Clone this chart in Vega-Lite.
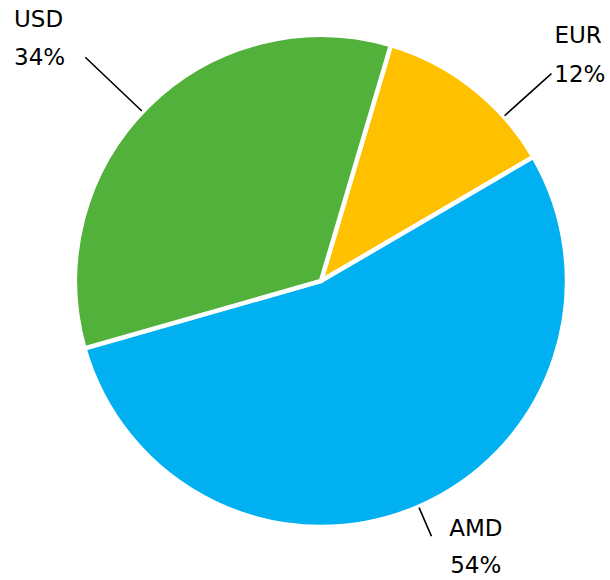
{
  "$schema": "https://vega.github.io/schema/vega-lite/v6.json",
  "width": 578,
  "height": 562,
  "autosize": "none",
  "padding": {"left": 32, "top": 0, "right": 0, "bottom": 18},
  "background": "white",
  "view": {"stroke": null},
  "data": {
    "values": [
      {"currency": "EUR", "share": 0.12},
      {"currency": "AMD", "share": 0.54},
      {"currency": "USD", "share": 0.34}
    ]
  },
  "layer": [
    {
      "encoding": {
        "theta": {"field": "share", "type": "quantitative", "stack": true, "scale": {"range": [4.435, 10.718]}},
        "order": {"field": "currency", "type": "nominal", "sort": "descending"},
        "detail": {"field": "currency", "type": "nominal"}
      },
      "layer": [
        {
          "mark": {"type": "arc", "outerRadius": 246, "stroke": "white", "strokeWidth": 4.5},
          "encoding": {
            "color": {
              "field": "currency",
              "type": "nominal",
              "scale": {"domain": ["EUR", "AMD", "USD"], "range": ["#FFC000", "#00B0F0", "#51B13B"]},
              "legend": null
            }
          }
        },
        {
          "mark": {"type": "text", "radius": 290, "align": "left", "baseline": "alphabetic", "dx": -103, "dy": -48, "font": "DejaVu Sans", "fontSize": 23, "fill": "#000000"},
          "encoding": {"text": {"condition": {"test": "datum.currency === 'USD'", "field": "currency", "type": "nominal"}, "value": ""}}
        },
        {
          "mark": {"type": "text", "radius": 290, "align": "left", "baseline": "alphabetic", "dx": -103, "dy": -10, "font": "DejaVu Sans", "fontSize": 23, "fill": "#000000"},
          "encoding": {"text": {"condition": {"test": "datum.currency === 'USD'", "field": "share", "type": "quantitative", "format": ".0%"}, "value": ""}}
        },
        {
          "mark": {"type": "text", "radius": 290, "align": "left", "baseline": "alphabetic", "dx": 54.5, "dy": -10, "font": "DejaVu Sans", "fontSize": 23, "fill": "#000000"},
          "encoding": {"text": {"condition": {"test": "datum.currency === 'EUR'", "field": "currency", "type": "nominal"}, "value": ""}}
        },
        {
          "mark": {"type": "text", "radius": 290, "align": "left", "baseline": "alphabetic", "dx": 54.3, "dy": 29, "font": "DejaVu Sans", "fontSize": 23, "fill": "#000000"},
          "encoding": {"text": {"condition": {"test": "datum.currency === 'EUR'", "field": "share", "type": "quantitative", "format": ".0%"}, "value": ""}}
        },
        {
          "mark": {"type": "text", "radius": 290, "align": "center", "baseline": "alphabetic", "dx": 41, "dy": -12, "font": "DejaVu Sans", "fontSize": 23, "fill": "#000000"},
          "encoding": {"text": {"condition": {"test": "datum.currency === 'AMD'", "field": "currency", "type": "nominal"}, "value": ""}}
        },
        {
          "mark": {"type": "text", "radius": 290, "align": "center", "baseline": "alphabetic", "dx": 41, "dy": 25.6, "font": "DejaVu Sans", "fontSize": 23, "fill": "#000000"},
          "encoding": {"text": {"condition": {"test": "datum.currency === 'AMD'", "field": "share", "type": "quantitative", "format": ".0%"}, "value": ""}}
        }
      ]
    },
    {
      "transform": [{"filter": "datum.currency === 'USD'"}],
      "mark": {"type": "arc", "theta": 5.4716, "theta2": 5.4716, "radius": 325, "radius2": 247, "fillOpacity": 0, "stroke": "#000000", "strokeWidth": 1.6},
      "encoding": {}
    },
    {
      "transform": [{"filter": "datum.currency === 'EUR'"}],
      "mark": {"type": "arc", "theta": 0.8378, "theta2": 0.8378, "radius": 310, "radius2": 247, "fillOpacity": 0, "stroke": "#000000", "strokeWidth": 1.6},
      "encoding": {}
    },
    {
      "transform": [{"filter": "datum.currency === 'AMD'"}],
      "mark": {"type": "arc", "theta": 2.7332, "theta2": 2.7332, "radius": 278, "radius2": 247, "fillOpacity": 0, "stroke": "#000000", "strokeWidth": 1.6},
      "encoding": {}
    }
  ]
}
